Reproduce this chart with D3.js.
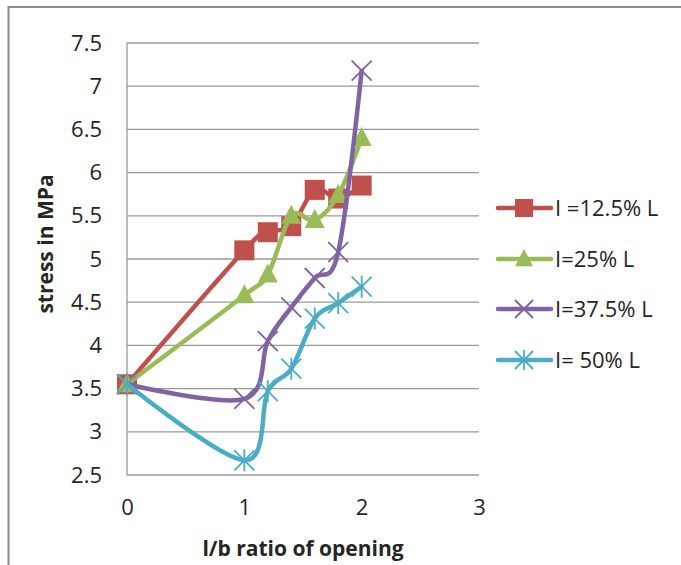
<!DOCTYPE html>
<html>
<head>
<meta charset="utf-8">
<script src="https://cdn.jsdelivr.net/npm/d3@7"></script>
<style>
  body { margin: 0; background: #fff; }
  svg { display: block; }
  .tick text { font-family: "Open Sans", sans-serif; font-size: 22px; fill: #262626; }
  .title { font-family: "Open Sans", sans-serif; font-size: 21px; font-weight: bold; fill: #262626; }
  .legend text { font-family: "Open Sans", sans-serif; font-size: 22px; fill: #262626; }
</style>
</head>
<body>
<svg id="chart" width="681" height="565"></svg>
<script>
// data
var ratios = [0, 1, 1.2, 1.4, 1.6, 1.8, 2];
var seriesNames = ["I =12.5% L", "I=25% L", "I=37.5% L", "I= 50% L"];
var stress125 = [3.55, 5.10, 5.31, 5.38, 5.80, 5.70, 5.85];
var stress25 = [3.55, 4.58, 4.82, 5.50, 5.45, 5.74, 6.40];
var stress375 = [3.55, 3.38, 4.05, 4.44, 4.78, 5.08, 7.18];
var stress50 = [3.55, 2.67, 3.47, 3.73, 4.31, 4.49, 4.68];
var xTicks = [0, 1, 2, 3];
var yTicks = [2.5, 3, 3.5, 4, 4.5, 5, 5.5, 6, 6.5, 7, 7.5];

var colors = ["#C0504D", "#9BBB59", "#8064A2", "#4BACC6"];
var markers = ["square", "triangle", "cross", "star"];
var allSeries = [stress125, stress25, stress375, stress50];

var svg = d3.select('#chart');

// outer chart border (runs off the right and bottom of the photo)
svg.append('rect')
    .attr('x', 8.5).attr('y', 7)
    .attr('width', 700).attr('height', 600)
    .style('fill', 'none')
    .style('stroke', '#8c8c8c')
    .style('stroke-width', 2);

var x = d3.scaleLinear().domain([0, 3]).range([127, 479]);
var y = d3.scaleLinear().domain([2.5, 7.5]).range([475, 43]);

// gridlines
svg.append('g').selectAll('line.grid')
    .data(yTicks)
    .enter()
    .append('line')
    .classed('grid', true)
    .attr('x1', x(0)).attr('x2', x(3))
    .attr('y1', function(d) { return y(d); })
    .attr('y2', function(d) { return y(d); })
    .style('stroke', '#9a9a9a')
    .style('stroke-width', 1.3);

// vertical axis line
svg.append('line')
    .attr('x1', x(0)).attr('x2', x(0))
    .attr('y1', y(7.5)).attr('y2', y(2.5))
    .style('stroke', '#9a9a9a')
    .style('stroke-width', 1.3);

var yAxis = d3.axisLeft(y).tickValues(yTicks).tickSize(0).tickPadding(25)
    .tickFormat(d3.format('~g'));
var gy = svg.append('g').attr('transform', 'translate(' + x(0) + ',0)').call(yAxis);
gy.select('.domain').remove();

var xAxis = d3.axisBottom(x).tickValues(xTicks).tickSize(0).tickPadding(24)
    .tickFormat(d3.format('d'));
var gx = svg.append('g').attr('transform', 'translate(0,' + y(2.5) + ')').call(xAxis);
gx.select('.domain').remove();

// axis titles
svg.append('text')
    .classed('title', true)
    .attr('x', 303).attr('y', 556)
    .attr('text-anchor', 'middle')
    .text('l/b ratio of opening');

svg.append('text')
    .classed('title', true)
    .attr('transform', 'translate(53,244) rotate(-90)')
    .attr('text-anchor', 'middle')
    .text('stress in MPa');

// marker drawing
function drawMarker(g, type, color, s) {
    if (type === 'square') {
        g.append('rect')
            .attr('x', -s).attr('y', -s)
            .attr('width', 2 * s).attr('height', 2 * s)
            .style('fill', color);
    } else if (type === 'triangle') {
        g.append('path')
            .attr('d', 'M0,' + (-s * 1.1) + 'L' + s + ',' + (s * 0.8) + 'L' + (-s) + ',' + (s * 0.8) + 'Z')
            .style('fill', color);
    } else {
        var d = 'M' + (-s) + ',' + (-s) + 'L' + s + ',' + s + 'M' + s + ',' + (-s) + 'L' + (-s) + ',' + s;
        if (type === 'star') d += 'M0,' + (-s * 1.1) + 'L0,' + (s * 1.1);
        g.append('path')
            .attr('d', d)
            .style('fill', 'none')
            .style('stroke', color)
            .style('stroke-width', 1.8);
    }
}

var line = d3.line()
    .x(function(d) { return x(d[0]); })
    .y(function(d) { return y(d[1]); })
    .curve(d3.curveCardinal.tension(0));

allSeries.forEach(function(values, i) {
    var pts = ratios.map(function(r, j) { return [r, values[j]]; });
    svg.append('path')
        .datum(pts)
        .attr('d', line)
        .style('fill', 'none')
        .style('stroke', colors[i])
        .style('stroke-width', 4.5)
        .style('stroke-linejoin', 'round')
        .style('stroke-linecap', 'round');
    svg.append('g').selectAll('g.pt')
        .data(pts)
        .enter()
        .append('g')
        .classed('pt', true)
        .attr('transform', function(d) { return 'translate(' + x(d[0]) + ',' + y(d[1]) + ')'; })
        .each(function() {
            drawMarker(d3.select(this), markers[i], colors[i], 10);
        });
});

// legend
var legend = svg.append('g').classed('legend', true);
var legendY = [208, 259, 309, 360];
seriesNames.forEach(function(name, i) {
    var row = legend.append('g').attr('transform', 'translate(0,' + legendY[i] + ')');
    row.append('line')
        .attr('x1', 498).attr('x2', 551)
        .style('stroke', colors[i])
        .style('stroke-width', 4.5)
        .style('stroke-linecap', 'round');
    var m = row.append('g').attr('transform', 'translate(524,0)');
    drawMarker(m, markers[i], colors[i], 9);
    row.append('text')
        .attr('x', 555).attr('y', 0)
        .attr('dy', '0.35em')
        .text(name);
});
</script>
</body>
</html>
